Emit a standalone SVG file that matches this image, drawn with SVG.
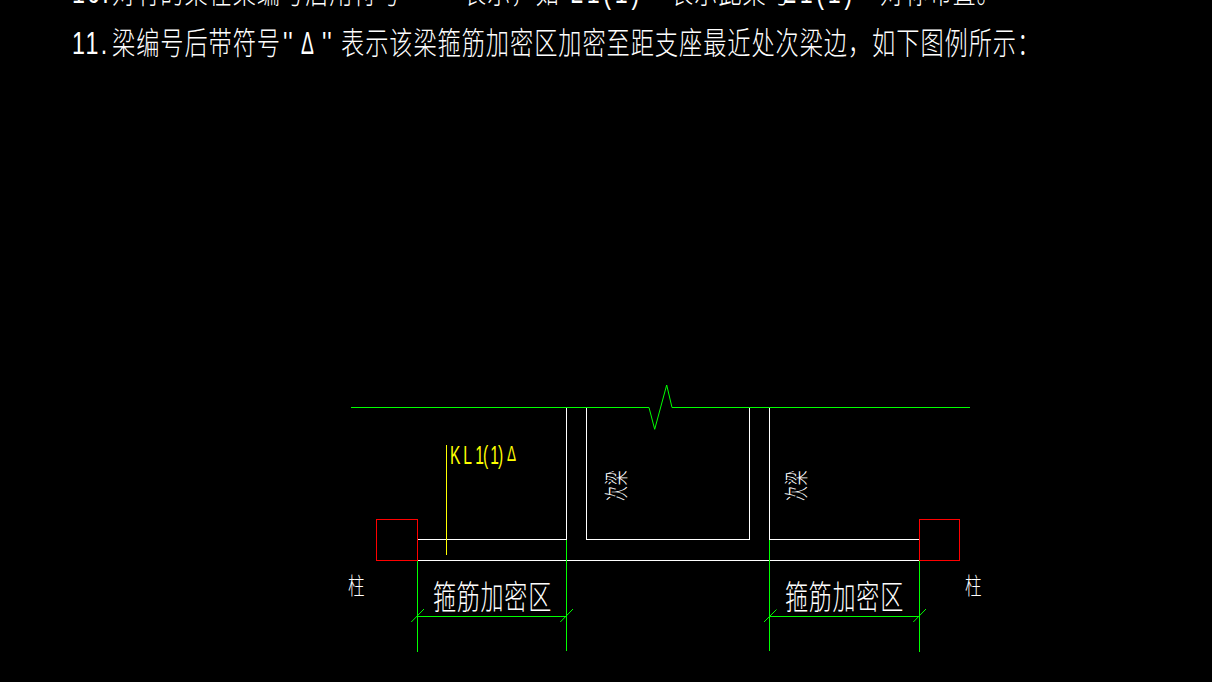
<svg xmlns="http://www.w3.org/2000/svg" width="1212" height="682" viewBox="0 0 1212 682">
<style>
.bg{fill:#000}
.l{fill:none;stroke-width:1;shape-rendering:crispEdges}
.w{stroke:#fff}.g{stroke:#0f0}.r{stroke:#f00}.y{stroke:#ff0}
.a{stroke:#0f0;stroke-width:1;fill:none}
text{font-family:"Noto Sans CJK SC","Liberation Sans",sans-serif;font-weight:300;fill:#fff}
.n{font-size:31px;letter-spacing:1.2px}
.lat{font-family:"Liberation Sans","Noto Sans CJK SC",sans-serif}
.t{font-size:33px;letter-spacing:1px}
.s{font-size:23px}
.v{font-size:24px;letter-spacing:1.5px}
.ky{fill:#ff0;font-family:"Liberation Sans",sans-serif;font-size:26px}
</style>
<rect class="bg" width="1212" height="682"/>
<g id="notes">
<text class="n lat" transform="translate(72,3) scale(.75,1)" style="letter-spacing:3px">10.</text>
<text class="n" transform="translate(112,3) scale(.75,1)">对有的梁在梁编号后用符号</text>
<text class="n lat" transform="translate(402,3) scale(.75,1)">''</text>
<text class="n lat" transform="translate(425,3) scale(.75,1)">×</text>
<text class="n lat" transform="translate(444,3) scale(.75,1)">''</text>
<text class="n" transform="translate(463,3) scale(.75,1)">表示，如</text>
<text class="n lat" transform="translate(570,3) scale(.75,1)" style="letter-spacing:5px">L1(1)×</text>
<text class="n" transform="translate(670,3) scale(.75,1)">表示此梁与</text>
<text class="n lat" transform="translate(783,3) scale(.75,1)" style="letter-spacing:5px">L1(1)×</text>
<text class="n" transform="translate(880,3) scale(.75,1)">对称布置。</text>
<text class="n lat" transform="translate(72,54) scale(.75,1)" style="letter-spacing:3px">11.</text>
<text class="n" transform="translate(112,54) scale(.75,1)">梁编号后带符号</text>
<text class="n lat" transform="translate(283,54) scale(.75,1)">''</text>
<text class="n lat" transform="translate(301,54) scale(.62,1)">Δ</text>
<text class="n lat" transform="translate(322,54) scale(.75,1)">''</text>
<text class="n" transform="translate(341,54) scale(.75,1)">表示该梁箍筋加密区加密至距支座最近处次梁边，如下图例所示：</text>
</g>
<g id="connectors">
<path class="l g" d="M351 407.5H649M672 407.5H970"/>
<path class="a" d="M649 407.5L654.7 429.3L666.7 385L672 407.5"/>
<path class="l w" d="M417.5 539.5H566.5V407.5M586.5 407.5V539.5H749.5V407.5M769.5 407.5V539.5H919.5M417.5 560.5H919.5"/>
<path class="l g" d="M417.5 539.5V651.5M566.5 539.5V650.5M769.5 539.5V650.5M919.5 539.5V651.5M417.5 616.5H566.5M769.5 616.5H919.5"/>
<path class="a" d="M411.3 622L424 609M560.3 622L573 609M764 622L776.5 609.5M913.3 622L926 609"/>
<path class="l y" d="M446.5 445V555"/>
</g>
<g id="column-left"><rect class="l r" x="376.5" y="519.5" width="41" height="41"/><text class="s" transform="translate(348,594) scale(.72,1)">柱</text></g>
<g id="column-right"><rect class="l r" x="919.5" y="519.5" width="40" height="41"/><text class="s" transform="translate(965,594) scale(.72,1)">柱</text></g>
<g id="beam-label"><text class="ky" transform="translate(450,464) scale(.6,1)" x="0 22 42 55 67 80">KL1(1)</text><text class="ky" transform="translate(507,461) scale(.52,.85)">Δ</text></g>
<g id="zone-left"><text class="t" transform="translate(433,609) scale(.7,1)">箍筋加密区</text></g>
<g id="zone-right"><text class="t" transform="translate(785,609) scale(.7,1)">箍筋加密区</text></g>
<g id="secondary-beam-left"><text class="v" transform="translate(625,501) rotate(-90) scale(.62,1)">次梁</text></g>
<g id="secondary-beam-right"><text class="v" transform="translate(805,501) rotate(-90) scale(.62,1)">次梁</text></g>
</svg>
